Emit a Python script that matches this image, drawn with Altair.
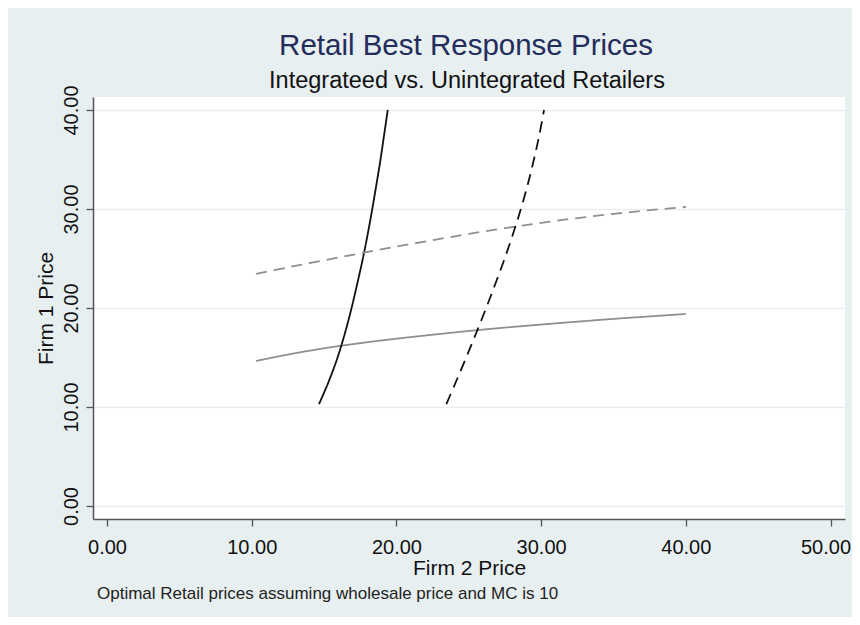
import altair as alt
import pandas as pd

# ---- data ----
rival_price = [10.3, 12.5, 15, 17.5, 20, 22.5, 25, 27.5, 30, 32.5, 35, 37.5, 40]
br_integrated = [14.65, 15.3, 15.93, 16.45, 16.9, 17.3, 17.68, 18.02, 18.33, 18.62, 18.9, 19.15, 19.4]
br_unintegrated = [23.45, 24.1, 24.82, 25.52, 26.2, 26.85, 27.48, 28.06, 28.6, 29.08, 29.5, 29.88, 30.2]

series_names = ["Firm 1 integrated", "Firm 2 integrated", "Firm 1 unintegrated", "Firm 2 unintegrated"]
series_colors = ["#8f8f8f", "#111111", "#8f8f8f", "#111111"]
series_dashes = [[1, 0], [1, 0], [11, 7], [11, 7]]

x_ticks = [0, 10, 20, 30, 40, 50]
y_ticks = [0, 10, 20, 30, 40]

title_text = "Retail Best Response Prices"
subtitle_text = "Integrateed vs. Unintegrated Retailers"
note_text = "Optimal Retail prices assuming wholesale price and MC is 10"
x_title = "Firm 2 Price"
y_title = "Firm 1 Price"

FONT = "Liberation Sans"

rows = []
for i, (p, bi, bu) in enumerate(zip(rival_price, br_integrated, br_unintegrated)):
    rows.append({"series": series_names[0], "x": p, "y": bi, "o": i})
    rows.append({"series": series_names[1], "x": bi, "y": p, "o": i})
    rows.append({"series": series_names[2], "x": p, "y": bu, "o": i})
    rows.append({"series": series_names[3], "x": bu, "y": p, "o": i})
df = pd.DataFrame(rows)

W, H = 752, 422

xs = alt.Scale(domain=[-0.97, 51.0], nice=False, zero=False)
ys = alt.Scale(domain=[-1.31, 41.31], nice=False, zero=False)

axis_common = dict(
    format=".2f",
    domainColor="#555555",
    domainWidth=1.5,
    tickColor="#555555",
    tickWidth=1.3,
    tickSize=7,
    labelFont=FONT,
    labelFontSize=20,
    labelColor="#111111",
    labelFlush=False,
    labelOverlap=False,
    titleFont=FONT,
    titleFontSize=21,
    titleFontWeight="normal",
    titleColor="#111111",
)

lines = alt.Chart(df).mark_line(strokeWidth=1.8, interpolate="catmull-rom").encode(
    x=alt.X("x:Q", scale=xs, axis=alt.Axis(
        values=x_ticks, title=x_title, grid=False,
        labelPadding=11, titlePadding=0,
        labelOffset={"condition": {"test": "datum.value == 50", "value": -5}, "value": 0},
        **axis_common)),
    y=alt.Y("y:Q", scale=ys, axis=alt.Axis(values=y_ticks, title=y_title, grid=True,
                                           gridColor="#e6eef1", gridWidth=1.3,
                                           labelAngle=270, labelAlign="center",
                                           labelBaseline="alphabetic", labelPadding=9,
                                           titlePadding=5, **axis_common)),
    color=alt.Color("series:N", scale=alt.Scale(domain=series_names, range=series_colors), legend=None),
    strokeDash=alt.StrokeDash("series:N", scale=alt.Scale(domain=series_names, range=series_dashes), legend=None),
    detail="series:N",
    order="o:Q",
)

one = pd.DataFrame({"k": [0]})

title = alt.Chart(one).mark_text(font=FONT, fontSize=29.5, color="#222d5c", align="center",
                                 baseline="alphabetic").encode(
    x=alt.value(373), y=alt.value(-42), text=alt.value(title_text))
subtitle = alt.Chart(one).mark_text(font=FONT, fontSize=23.5, color="#111111", align="center",
                                    baseline="alphabetic").encode(
    x=alt.value(374), y=alt.value(-9), text=alt.value(subtitle_text))
note = alt.Chart(one).mark_text(font=FONT, fontSize=17, color="#222222", align="left",
                                baseline="alphabetic").encode(
    x=alt.value(4), y=alt.value(502), text=alt.value(note_text))

chart = alt.layer(lines, title, subtitle, note).properties(
    width=W,
    height=H,
    autosize=alt.AutoSizeParams(type="none"),
    padding={"left": 85, "top": 89, "right": 7, "bottom": 98},
    background="#e8eff1",
).configure_view(fill="white", strokeWidth=0)

chart.save("out.html", embed_options={"renderer": "svg", "actions": False})
